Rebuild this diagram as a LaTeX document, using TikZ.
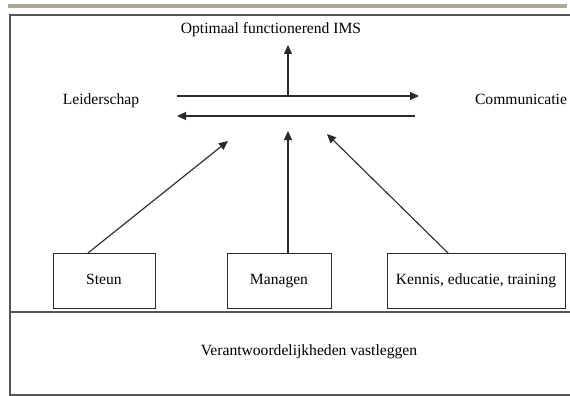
\documentclass[tikz,border=0pt]{standalone}
\usepackage{fontspec}
\setmainfont{Liberation Serif}
\usetikzlibrary{arrows.meta}
\definecolor{barcol}{HTML}{ADA999}
\definecolor{framecol}{HTML}{555555}
\definecolor{linecol}{HTML}{2A2A2A}
\tikzset{
  lbl/.style={font=\fontsize{15.6}{18}\selectfont, inner sep=1pt, text height=10.5pt, text depth=3.5pt},
  stepbox/.style={draw=linecol, line width=0.9pt, lbl, minimum height=55pt, inner sep=1pt},
  flow/.style={draw=linecol, line width=1.1pt, -{Triangle[length=9pt,width=8pt]}},
  frame/.style={draw=framecol, line width=1.3pt},
}
\begin{document}
\begin{tikzpicture}[x=1pt,y=-1pt]
  \useasboundingbox (0,0) rectangle (570,396);
  % header bar and frame
  \fill[barcol] (8,4) rectangle (567,8);
  \draw[frame] (10,396) -- (10,15) -- (570,15);
  \draw[frame] (10,395) -- (570,395);
  \draw[frame] (10,312) -- (570,312);

  % labels
  \node[lbl] (ims) at (271,30) {Optimaal functionerend IMS};
  \node[lbl] (lead) at (101,101) {Leiderschap};
  \node[lbl] (comm) at (521,101) {Communicatie};
  \node[lbl] (resp) at (309,352) {Verantwoordelijkheden vastleggen};

  % boxes
  \node[stepbox, minimum width=102pt] (steun) at (104,280.5) {Steun};
  \node[stepbox, minimum width=104pt] (man) at (279,280.5) {Managen};
  \node[stepbox, minimum width=178pt] (kennis) at (476,280.5) {Kennis, educatie, training};

  % arrow end points
  \coordinate (topL) at (177,96);
  \coordinate (topR) at (419,96);
  \coordinate (topM) at (288,96);
  \coordinate (imsT) at (288,45);
  \coordinate (botR) at (415,116);
  \coordinate (botL) at (177,116);
  \coordinate (tipS) at (228,141);
  \coordinate (tipM) at (288,131);
  \coordinate (tipK) at (327,134);
  \coordinate (srcS) at (88,253);
  \coordinate (srcM) at (288,253);
  \coordinate (srcK) at (448,253);

  % loop between leadership and communication
  \draw[flow] (topL) -- (topR);
  \draw[flow] (botR) -- (botL);
  \draw[flow] (topM) -- (imsT);

  % supporting arrows
  \draw[flow] (srcS) -- (tipS);
  \draw[flow] (srcM) -- (tipM);
  \draw[flow] (srcK) -- (tipK);
\end{tikzpicture}
\end{document}
